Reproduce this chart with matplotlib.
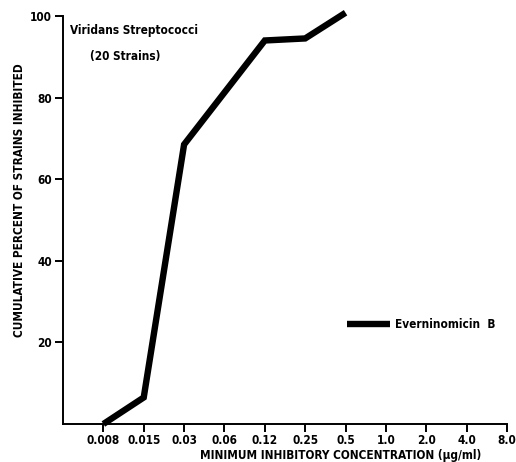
import matplotlib.pyplot as plt
import matplotlib as mpl
from matplotlib import font_manager

# narrow bold lettering like the original; pick a condensed face if one is installed
names = {f.name for f in font_manager.fontManager.ttflist}
cond = [f for f in font_manager.fontManager.ttflist
        if f.name == 'DejaVu Sans' and f.stretch == 'condensed']
family = 'Liberation Sans Narrow' if 'Liberation Sans Narrow' in names else 'DejaVu Sans'
mpl.rcParams['font.family'] = [family, 'DejaVu Sans']
mpl.rcParams['font.weight'] = 'bold'
mpl.rcParams['font.stretch'] = 'condensed'
fs = 8.5 if cond or family != 'DejaVu Sans' else 7.8

conc_labels = ["0.008", "0.015", "0.03", "0.06", "0.12", "0.25", "0.5", "1.0", "2.0", "4.0", "8.0"]
# measured points (concentration label -> cumulative percent)
point_conc = ["0.008", "0.015", "0.03", "0.12", "0.25", "0.5"]
percent = [0, 6.5, 68.5, 94, 94.5, 100.8]
series_name = "Everninomicin  B"

pos = {lab: i + 1 for i, lab in enumerate(conc_labels)}
xs = [pos[c] for c in point_conc]

fig = plt.figure(figsize=(5.16, 4.62), dpi=100)
ax = fig.add_axes([63/516, 38/462, 444/516, 408/462])

ax.plot(xs, percent, color='black', lw=4.6, solid_capstyle='butt',
        solid_joinstyle='miter', label=series_name, clip_on=False)

ax.set_xlim(0, len(conc_labels))
ax.set_ylim(0, 100)
ax.set_xticks(range(1, len(conc_labels) + 1))
ax.set_xticklabels(conc_labels)
ax.set_yticks([20, 40, 60, 80, 100])
ax.spines['top'].set_visible(False)
ax.spines['right'].set_visible(False)
for s in ('left', 'bottom'):
    ax.spines[s].set_linewidth(1.4)
ax.tick_params(direction='out', length=6, width=1.4, labelsize=fs, pad=2)
ax.tick_params(axis='x', pad=1)

ax.text(0.016, 0.965, "Viridans Streptococci", transform=ax.transAxes,
        fontsize=fs, fontweight='bold', va='center', ha='left')
ax.text(0.06, 0.9, "(20 Strains)", transform=ax.transAxes,
        fontsize=fs, fontweight='bold', va='center', ha='left')

ax.legend(loc='center left', bbox_to_anchor=((347-63)/444, (424-325)/408),
          frameon=False, borderpad=0, borderaxespad=0, handlelength=3.6,
          handletextpad=0.5, prop={'size': fs, 'weight': 'bold', 'stretch': 'condensed'})

fig.text(20/516, 1 - 200/462, "CUMULATIVE PERCENT OF STRAINS INHIBITED",
         rotation=90, ha='center', va='center', fontsize=fs, fontweight='bold')
fig.text(341/516, 1 - 455/462, "MINIMUM INHIBITORY CONCENTRATION (\u00b5g/ml)",
         ha='center', va='center', fontsize=fs, fontweight='bold')

fig.savefig("out.png", dpi=100)
